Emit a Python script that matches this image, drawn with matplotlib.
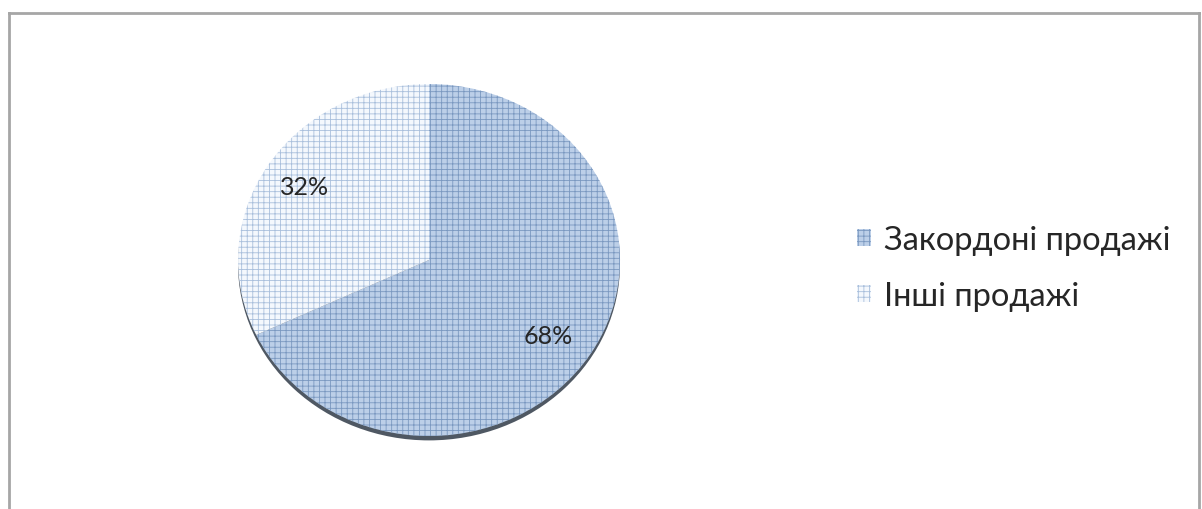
import matplotlib
matplotlib.use("Agg")
import matplotlib.pyplot as plt
from matplotlib.patches import Ellipse, Patch

# Sales structure
categories = ["Закордоні продажі", "Інші продажі"]
shares = [68, 32]
labels = ["68%", "32%"]

face_colors = ["#bccfe8", "#f4f8fd"]
hatch_colors = ["#7a98c0", "#a9bfdc"]

plt.rcParams["font.family"] = ["Lato", "DejaVu Sans"]
plt.rcParams["hatch.linewidth"] = 0.6

fig = plt.figure(figsize=(12.02, 5.10), dpi=100)

# outer chart frame (open at the bottom)
frame_color = "#a6a6a6"
fig.add_artist(plt.Line2D([9 / 1202, 9 / 1202], [0, 1 - 14 / 510],
                          transform=fig.transFigure, color=frame_color, lw=2))
fig.add_artist(plt.Line2D([9 / 1202, 1199 / 1202], [1 - 14 / 510, 1 - 14 / 510],
                          transform=fig.transFigure, color=frame_color, lw=2))
fig.add_artist(plt.Line2D([1199 / 1202, 1199 / 1202], [0, 1 - 14 / 510],
                          transform=fig.transFigure, color=frame_color, lw=2))

# pie axes: slightly flattened circle
cx, cy, rx, ry = 429, 261, 191, 176
ax = fig.add_axes([(cx - rx) / 1202, (510 - cy - ry) / 510,
                   2 * rx / 1202, 2 * ry / 510])
ax.axis("off")

wedges, _ = ax.pie(shares, startangle=90, counterclock=False, radius=1.0,
                   wedgeprops=dict(linewidth=0))
for w, fc, hc in zip(wedges, face_colors, hatch_colors):
    w.set_facecolor(fc)
    w.set_edgecolor(hc)
    w.set_hatch("+++")
    w.set_linewidth(0)
    w.set_zorder(2)
    w.set_clip_on(False)

# shadow under the lower rim
ax.add_patch(Ellipse((0.0, -0.025), 2.0, 2.0, facecolor="#4f5863",
                     edgecolor="none", zorder=0, clip_on=False))

ax.set_aspect("auto")
ax.set_xlim(-1, 1)
ax.set_ylim(-1, 1)

# value labels
ax.text(0.625, -0.43, labels[0], fontsize=18, color="#262626",
        ha="center", va="center", zorder=5)
ax.text(-0.65, 0.42, labels[1], fontsize=18, color="#262626",
        ha="center", va="center", zorder=5)

# legend
handles = [Patch(facecolor=fc, edgecolor=hc, hatch="+++", linewidth=0)
           for fc, hc in zip(face_colors, hatch_colors)]
fig.legend(handles, categories, loc="center left",
           bbox_to_anchor=(828 / 1202, 1 - 269 / 510), frameon=False,
           fontsize=23.5, handlelength=0.43, handleheight=0.43,
           handletextpad=0.38, labelspacing=0.8, labelcolor="#262626")

fig.savefig("out.png", dpi=100, facecolor="white")
